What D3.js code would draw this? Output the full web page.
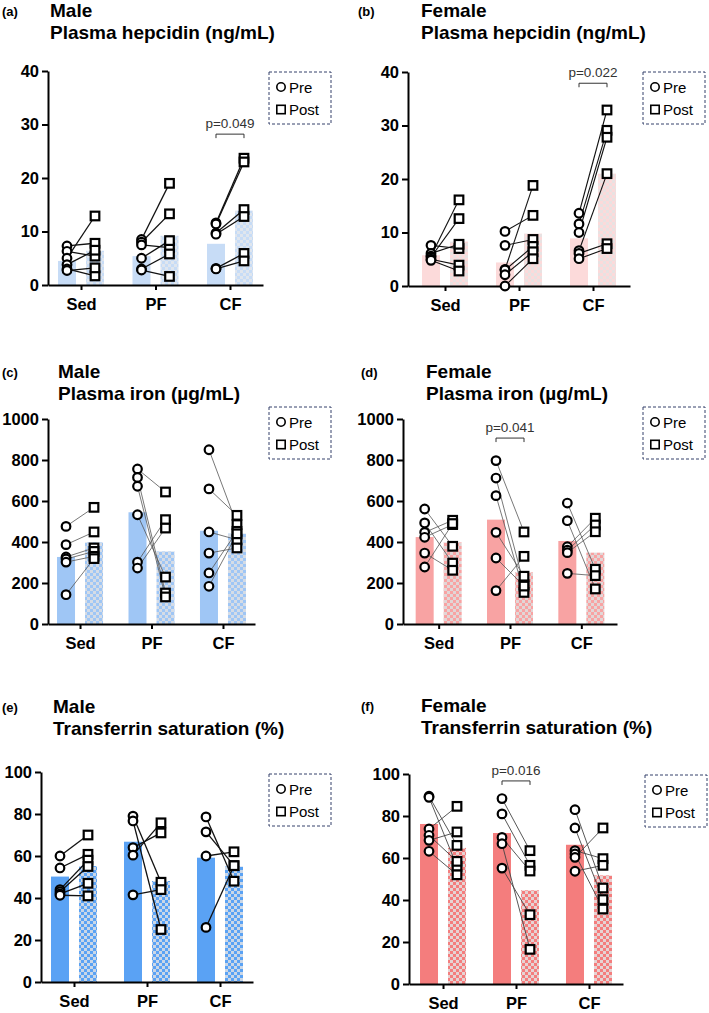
<!DOCTYPE html>
<html>
<head>
<meta charset="utf-8">
<script src="https://cdnjs.cloudflare.com/ajax/libs/d3/7.8.5/d3.min.js"></script>
<style>
  body { margin: 0; background: #fff; }
  text { font-family: "Liberation Sans", Arial, sans-serif; }
</style>
</head>
<body>
<div id="chart"></div>
<script>
var WD = 709, HT = 1013
var groups = ["Sed", "PF", "CF"]

// (a) male plasma hepcidin, ng/mL  -- per group: pre[i] pairs with post[i]
var hepM_pre  = [[7.3, 6.3, 5.0, 3.8, 3.0, 2.7], [8.5, 8.0, 7.5, 5.0, 3.0, 2.8], [11.6, 11.4, 9.7, 9.5, 3.1, 3.0]]
var hepM_post = [[7.8, 5.4, 12.9, 6.5, 1.7, 3.2], [19.0, 13.3, 7.0, 8.3, 5.8, 1.6], [23.7, 23.0, 14.1, 12.8, 5.9, 4.5]]
var hepM_bar  = [[4.5, 6.4], [5.4, 9.2], [7.7, 13.9]]

// (b) female plasma hepcidin
var hepF_pre  = [[7.6, 6.1, 5.6, 5.4, 5.0, 4.8], [10.2, 7.6, 3.1, 3.0, 2.1, 0.0], [13.6, 11.6, 10.0, 6.6, 6.1, 5.1]]
var hepF_post = [[7.0, 7.8, 16.1, 12.6, 3.9, 2.8], [13.2, 8.7, 18.8, 7.4, 6.4, 5.1], [32.9, 29.1, 27.8, 21.0, 7.9, 7.0]]
var hepF_bar  = [[5.75, 8.3], [4.4, 9.8], [8.9, 21.0]]

// (c) male plasma iron, ug/mL
var ironM_pre  = [[476, 387, 327, 317, 302, 143], [756, 715, 672, 533, 302, 273], [850, 659, 449, 346, 249, 184]]
var ironM_post = [[569, 449, 371, 354, 330, 319], [644, 151, 132, 229, 509, 468], [485, 530, 411, 371, 452, 440]]
var ironM_bar  = [[327, 398], [545, 354], [455, 441]]

// (d) female plasma iron
var ironF_pre  = [[561, 493, 447, 423, 346, 278], [797, 712, 626, 447, 322, 163], [590, 504, 377, 360, 348, 247]]
var ironF_post = [[379, 297, 506, 485, 262, 490], [449, 192, 154, 233, 185, 330], [267, 171, 516, 483, 450, 236]]
var ironF_bar  = [[424, 398], [509, 252], [405, 348]]

// (e) male transferrin saturation, %
var tsatM_pre  = [[60, 54.3, 44, 43, 42, 41.3], [79, 76.7, 64, 60.4, 41.5], [78.6, 71.5, 60, 26]]
var tsatM_post = [[70, 60.8, 58, 55, 47, 41], [47.5, 25, 71, 75.8, 44], [48, 55.4, 62, 55.4]]
var tsatM_bar  = [[50.2, 55.2], [66.8, 48.1], [59.2, 55.0]]

// (f) female transferrin saturation
var tsatF_pre  = [[89.4, 88.9, 73.8, 70.8, 68.4, 63.2], [88.3, 81, 69.8, 66.8, 55.2], [83, 74.3, 63.5, 61.9, 60.3, 53.7]]
var tsatF_post = [[66, 56, 84.6, 58.4, 72.4, 52], [63.5, 56.5, 53.8, 16.5, 33], [45.7, 40.2, 59.7, 35.7, 74.3, 56.5]]
var tsatF_bar  = [[76.2, 64.8], [71.9, 44.6], [66.3, 51.7]]

var hepTicks = [0, 10, 20, 30, 40]
var ironTicks = [0, 200, 400, 600, 800, 1000]
var tsatTicks = [0, 20, 40, 60, 80, 100]

// significance brackets: panel, group, height (data units), label
var pLabels = [
  { panel: 0, group: "CF", at: 28.2, text: "p=0.049" },
  { panel: 1, group: "CF", at: 37.9, text: "p=0.022" },
  { panel: 3, group: "PF", at: 907, text: "p=0.041" },
  { panel: 5, group: "PF", at: 96.7, text: "p=0.016" }
]

var panels = [
  { tag: "(a)", sex: "Male", name: "Plasma hepcidin (ng/mL)", pre: hepM_pre, post: hepM_post, bar: hepM_bar, ticks: hepTicks,
    color: "#c7dcf6", light: "#e0e6ee", lw: 1.3, lc: "#111",
    L: 48, W: 215, pad: 0.443, y0: 285, y1: 71, tx: 2, nx: 50, ty: 17, leg: [269, 72] },
  { tag: "(b)", sex: "Female", name: "Plasma hepcidin (ng/mL)", pre: hepF_pre, post: hepF_post, bar: hepF_bar, ticks: hepTicks,
    color: "#fcdada", light: "#e8e2e2", lw: 1.1, lc: "#111",
    L: 408, W: 222, pad: 0.5, y0: 286, y1: 72, tx: 358, nx: 421, ty: 17, leg: [643, 72] },
  { tag: "(c)", sex: "Male", name: "Plasma iron (\u00b5g/mL)", pre: ironM_pre, post: ironM_post, bar: ironM_bar, ticks: ironTicks,
    color: "#9fc6f5", light: "#d5dce6", lw: 0.8, lc: "#555",
    L: 48, W: 207, pad: 0.448, y0: 624, y1: 419, tx: 2, nx: 58, ty: 378, leg: [269, 407] },
  { tag: "(d)", sex: "Female", name: "Plasma iron (\u00b5g/mL)", pre: ironF_pre, post: ironF_post, bar: ironF_bar, ticks: ironTicks,
    color: "#f8a3a3", light: "#e2d6d6", lw: 0.8, lc: "#555",
    L: 403, W: 214, pad: 0.5, y0: 624, y1: 419, tx: 361, nx: 426, ty: 378, leg: [643, 407] },
  { tag: "(e)", sex: "Male", name: "Transferrin saturation (%)", pre: tsatM_pre, post: tsatM_post, bar: tsatM_bar, ticks: tsatTicks,
    color: "#5aa2f4", light: "#cad7e7", lw: 1.3, lc: "#111",
    L: 41, W: 212, pad: 0.452, y0: 982, y1: 772, tx: 2, nx: 53, ty: 713, leg: [269, 774] },
  { tag: "(f)", sex: "Female", name: "Transferrin saturation (%)", pre: tsatF_pre, post: tsatF_post, bar: tsatF_bar, ticks: tsatTicks,
    color: "#f47d7d", light: "#e6d3d3", lw: 0.9, lc: "#444",
    L: 409, W: 214, pad: 0.466, y0: 984, y1: 774, tx: 361, nx: 421, ty: 712, leg: [645, 775] }
]

var svg = d3.select("#chart").append("svg")
    .attr("width", WD).attr("height", HT)
svg.append("rect").attr("width", WD).attr("height", HT).attr("fill", "#fff")
var defs = svg.append("defs")

var OFF = 14, BW = 18, R = 4.3, SQ = 8.6

panels.forEach(function(p, i) {
  // checker pattern for the post bars
  var pat = defs.append("pattern").attr("id", "chk" + i)
      .attr("patternUnits", "userSpaceOnUse").attr("width", 6).attr("height", 6)
  pat.append("rect").attr("width", 6).attr("height", 6).attr("fill", p.color)
  pat.append("rect").attr("width", 3).attr("height", 3).attr("fill", p.light)
  pat.append("rect").attr("x", 3).attr("y", 3).attr("width", 3).attr("height", 3).attr("fill", p.light)

  var x = d3.scalePoint().domain(groups).range([p.L, p.L + p.W]).padding(p.pad)
  var y = d3.scaleLinear().domain([0, p.ticks[p.ticks.length - 1]]).range([p.y0, p.y1])
  var g = svg.append("g")

  // titles
  g.append("text").attr("x", p.tx).attr("y", p.ty - 1).attr("font-size", 13).attr("font-weight", "bold").text(p.tag)
  g.append("text").attr("x", p.nx).attr("y", p.ty).attr("font-size", 19).attr("font-weight", "bold").text(p.sex)
  g.append("text").attr("x", p.nx).attr("y", p.ty + 22).attr("font-size", 19).attr("font-weight", "bold").text(p.name)

  // bars
  groups.forEach(function(gr, k) {
    g.append("rect").attr("x", x(gr) - OFF - BW / 2).attr("width", BW)
      .attr("y", y(p.bar[k][0])).attr("height", y(0) - y(p.bar[k][0])).attr("fill", p.color)
    g.append("rect").attr("x", x(gr) + OFF - BW / 2).attr("width", BW)
      .attr("y", y(p.bar[k][1])).attr("height", y(0) - y(p.bar[k][1])).attr("fill", "url(#chk" + i + ")")
  })

  // axes
  var yAxis = g.append("g").attr("transform", "translate(" + p.L + ",0)")
    .call(d3.axisLeft(y).tickValues(p.ticks).tickFormat(d3.format("d")).tickSize(6).tickSizeOuter(0).tickPadding(3))
  var xAxis = g.append("g").attr("transform", "translate(0," + p.y0 + ")")
    .call(d3.axisBottom(x).tickSize(5).tickSizeOuter(0).tickPadding(8))
  ;[yAxis, xAxis].forEach(function(a) {
    a.select(".domain").attr("stroke", "#000").attr("stroke-width", 2)
    a.selectAll(".tick line").attr("stroke", "#000").attr("stroke-width", 2)
    a.selectAll(".tick text").attr("fill", "#000").attr("font-size", 16.5).attr("font-weight", "bold")
      .attr("font-family", "Liberation Sans, Arial, sans-serif")
  })

  // pairing lines and points
  groups.forEach(function(gr, k) {
    var xa = x(gr) - OFF, xb = x(gr) + OFF
    p.pre[k].forEach(function(v, j) {
      g.append("line").attr("x1", xa).attr("y1", y(v)).attr("x2", xb).attr("y2", y(p.post[k][j]))
        .attr("stroke", p.lc).attr("stroke-width", p.lw)
    })
    g.selectAll(null).data(p.post[k]).enter().append("rect")
      .attr("x", xb - SQ / 2).attr("y", function(d) { return y(d) - SQ / 2 })
      .attr("width", SQ).attr("height", SQ)
      .attr("fill", "#fff").attr("stroke", "#000").attr("stroke-width", 2.2)
    g.selectAll(null).data(p.pre[k]).enter().append("circle")
      .attr("cx", xa).attr("cy", function(d) { return y(d) })
      .attr("r", R)
      .attr("fill", "#fff").attr("stroke", "#000").attr("stroke-width", 2.2)
  })

  // legend
  var lg = g.append("g").attr("transform", "translate(" + p.leg[0] + "," + p.leg[1] + ")")
  lg.append("rect").attr("width", 62).attr("height", 52).attr("fill", "none")
    .attr("stroke", "#34406a").attr("stroke-width", 1).attr("stroke-dasharray", "3,2")
  lg.append("circle").attr("cx", 12).attr("cy", 15).attr("r", 4.2)
    .attr("fill", "#fff").attr("stroke", "#000").attr("stroke-width", 1.6)
  lg.append("text").attr("x", 20).attr("y", 20.5).attr("font-size", 15).text("Pre")
  lg.append("rect").attr("x", 7.8).attr("y", 33.3).attr("width", 8.4).attr("height", 8.4)
    .attr("fill", "#fff").attr("stroke", "#000").attr("stroke-width", 1.6)
  lg.append("text").attr("x", 20).attr("y", 43).attr("font-size", 15).text("Post")

  // significance
  pLabels.filter(function(d) { return d.panel === i }).forEach(function(d) {
    var x1 = x(d.group) - OFF, x2 = x(d.group) + OFF, yy = y(d.at)
    g.append("path").attr("d", "M" + x1 + "," + (yy + 4) + "V" + yy + "H" + x2 + "V" + (yy + 4))
      .attr("fill", "none").attr("stroke", "#333").attr("stroke-width", 1)
    g.append("text").attr("x", x(d.group)).attr("y", yy - 6).attr("text-anchor", "middle")
      .attr("font-size", 13.5).attr("fill", "#333").text(d.text)
  })
})
</script>
</body>
</html>
